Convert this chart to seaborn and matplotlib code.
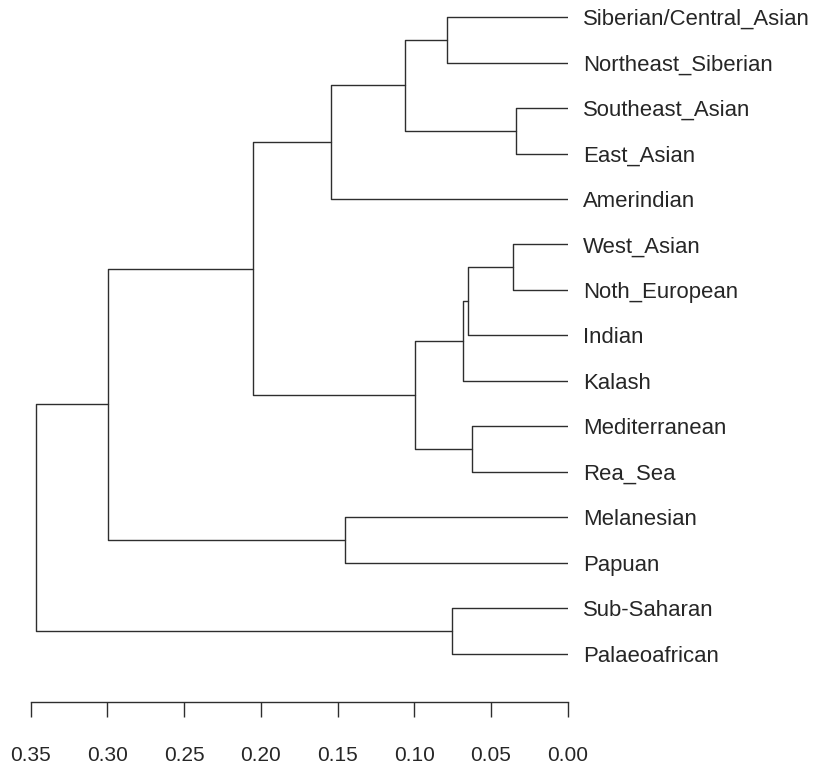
import numpy as np
import pandas as pd
import matplotlib
matplotlib.use("Agg")
import matplotlib.pyplot as plt
import seaborn as sns

# leaf order as drawn, top to bottom
leaves = ["Siberian/Central_Asian", "Northeast_Siberian", "Southeast_Asian",
          "East_Asian", "Amerindian", "West_Asian", "Noth_European", "Indian",
          "Kalash", "Mediterranean", "Rea_Sea", "Melanesian", "Papuan",
          "Sub-Saharan", "Palaeoafrican"]

# linkage: new cluster ids start at 15
merge_left = [0, 2, 15, 17, 5, 19, 20, 9, 21, 18, 11, 24, 13, 26]
merge_right = [1, 3, 16, 4, 6, 7, 8, 10, 22, 23, 12, 25, 14, 27]
merge_height = [0.0787, 0.0337, 0.106, 0.1543, 0.0357, 0.065, 0.0683,
                0.0624, 0.0996, 0.205, 0.1454, 0.2999, 0.0754, 0.3466]

tick_values = [0.35, 0.30, 0.25, 0.20, 0.15, 0.10, 0.05, 0.00]

sns.set_theme(style="white")
plt.rcParams["font.family"] = ["Liberation Sans", "DejaVu Sans"]

LINE = "#2e2e2e"
TEXT = "#262626"

# ---------------------------------------------------------
# build the dendrogram segments
# ---------------------------------------------------------
n = len(leaves)
pos = {i: float(i) for i in range(n)}
hgt = {i: 0.0 for i in range(n)}
rows = []
for k, (a, b, h) in enumerate(zip(merge_left, merge_right, merge_height)):
    pts = [(hgt[a], pos[a]), (h, pos[a]), (h, pos[b]), (hgt[b], pos[b])]
    for j, (x, y) in enumerate(pts):
        rows.append({"link": k, "order": j, "h": x, "y": y})
    pos[n + k] = (pos[a] + pos[b]) / 2
    hgt[n + k] = h
segs = pd.DataFrame(rows)

fig = plt.figure(figsize=(8.13, 7.68), dpi=100)
ax = fig.add_axes([0.0378, 0.0863, 0.6605, 0.9137])

sns.lineplot(data=segs, x="h", y="y", units="link", estimator=None, sort=False,
             color=LINE, linewidth=1.0, ax=ax, legend=False)

for i, name in enumerate(leaves):
    ax.text(-0.0098, i + 0.176, name, ha="left", va="baseline",
            fontsize=15.9, color=TEXT, clip_on=False)

ax.set_xlim(0.35, 0.0)
ax.set_ylim(15.05, -0.374)
ax.set_xticks(tick_values)
ax.set_xticklabels([f"{v:.2f}" for v in tick_values])
ax.set_yticks([])
ax.set_xlabel("")
ax.set_ylabel("")
sns.despine(ax=ax, left=True, top=True, right=True)
ax.spines["bottom"].set_color(LINE)
ax.spines["bottom"].set_linewidth(1.0)
ax.tick_params(axis="x", direction="out", length=10.8, width=1.0, color=LINE,
               pad=21, labelsize=15, labelcolor=TEXT, bottom=True)

plt.savefig("out.png", dpi=100)
plt.close()
